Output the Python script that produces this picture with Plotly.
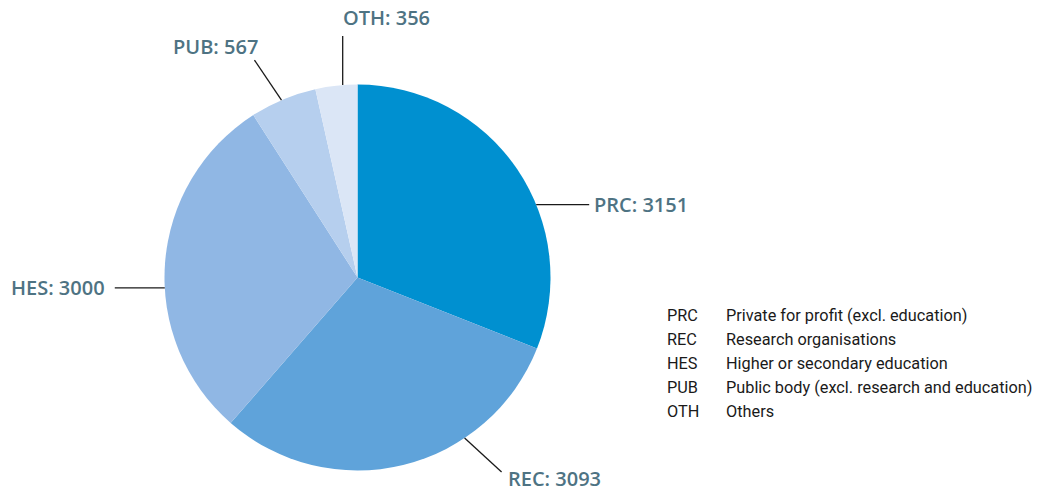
import math
import plotly.graph_objects as go

## Data
codes = ["PRC", "REC", "HES", "PUB", "OTH"]
participants = [3151, 3093, 3000, 567, 356]
descriptions = [
    "Private for profit (excl. education)",
    "Research organisations",
    "Higher or secondary education",
    "Public body (excl. research and education)",
    "Others",
]

slice_colors = ["#0090d0", "#5fa3da", "#90b7e4", "#b6cfee", "#dbe6f6"]
label_color = "#4e7383"

## Canvas / pie geometry (pixels)
W, H = 1046, 491
cx, cy, r = 357.5, 277.5, 193

# label placement: angle on rim (deg clockwise from 12 o'clock), leader line offset, text offset, anchor
label_layout = {
    "PRC": dict(angle=67.8, line=(53, 0), text=(3, 0), anchor="left"),
    "REC": dict(angle=146.3, line=(37, 34), text=(4, 6), anchor="left"),
    "HES": dict(angle=266.9, line=(-50, 0), text=(-8, 0), anchor="right"),
    "PUB": dict(angle=336.8, line=(-27, -40), text=(6, -14), anchor="right"),
    "OTH": dict(angle=355.6, line=(0, -49), text=(-2, -19), anchor="left"),
}


def px_to_paper(x, y):
    return x / W, 1 - y / H


fig = go.Figure()

dx0, dy1 = px_to_paper(cx - r, cy - r)
dx1, dy0 = px_to_paper(cx + r, cy + r)
fig.add_trace(go.Pie(
    labels=codes,
    values=participants,
    sort=False,
    direction="clockwise",
    rotation=0,
    textinfo="none",
    hoverinfo="label+value",
    marker=dict(colors=slice_colors, line=dict(width=0)),
    domain=dict(x=[dx0, dx1], y=[dy0, dy1]),
    showlegend=False,
))

## Leader lines + value labels
for code, val in zip(codes, participants):
    lay = label_layout[code]
    a = math.radians(lay["angle"])
    x0, y0 = cx + r * math.sin(a), cy - r * math.cos(a)
    x1, y1 = x0 + lay["line"][0], y0 + lay["line"][1]
    p0, p1 = px_to_paper(x0, y0), px_to_paper(x1, y1)
    fig.add_shape(type="line", xref="paper", yref="paper",
                  x0=p0[0], y0=p0[1], x1=p1[0], y1=p1[1],
                  line=dict(color="#1a1a1a", width=1.3))
    tx, ty = px_to_paper(x1 + lay["text"][0], y1 + lay["text"][1])
    fig.add_annotation(
        text=f"{code}: {val}",
        xref="paper", yref="paper", x=tx, y=ty,
        xanchor=lay["anchor"], yanchor="middle",
        showarrow=False,
        font=dict(family="Open Sans", size=20, color=label_color, weight=600),
    )

## Text legend (code + description)
row_top, row_step = 315, 24
for i, (code, desc) in enumerate(zip(codes, descriptions)):
    for xpos, txt in ((665, code), (724, desc)):
        ax, ay = px_to_paper(xpos, row_top + i * row_step)
        fig.add_annotation(
            text=txt, xref="paper", yref="paper",
            x=ax, y=ay, xanchor="left", yanchor="middle",
            showarrow=False,
            font=dict(family="Roboto", size=16.3, color="#1a1a1a"),
        )

fig.update_layout(
    width=W, height=H,
    margin=dict(l=0, r=0, t=0, b=0),
    paper_bgcolor="white",
    plot_bgcolor="white",
)

# drop the default browser body margin so the figure fills the window exactly
fig.write_html("out.html", config={"displayModeBar": False},
               post_script="document.body.style.margin = '0px';")
